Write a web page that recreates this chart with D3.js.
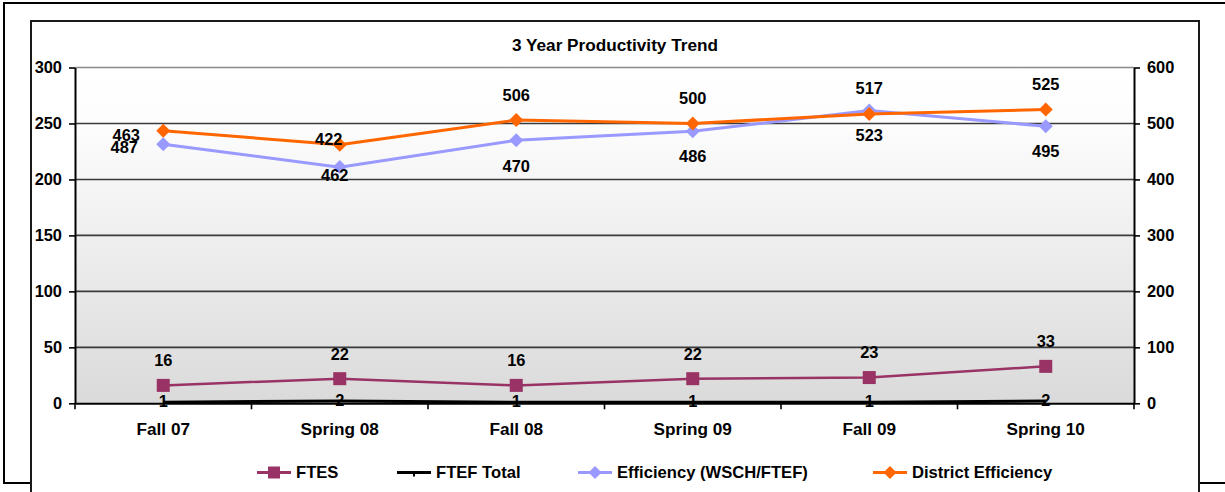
<!DOCTYPE html>
<html>
<head>
<meta charset="utf-8">
<script src="https://cdn.jsdelivr.net/npm/d3@7"></script>
<style>
  html, body { margin: 0; padding: 0; background: #fff; }
  svg { display: block; }
  text { font-family: "Liberation Sans", Arial, sans-serif; font-weight: bold; fill: #000; }
</style>
</head>
<body>
<svg id="chart" width="1225" height="492"></svg>
<script>
// ---- data ----
const categories = ["Fall 07", "Spring 08", "Fall 08", "Spring 09", "Fall 09", "Spring 10"];
const ftes = [16, 22, 16, 22, 23, 33];
const ftefTotal = [1, 2, 1, 1, 1, 2];
const efficiency = [463, 422, 470, 486, 523, 495];
const districtEfficiency = [487, 462, 506, 500, 517, 525];
const leftTicks = [0, 50, 100, 150, 200, 250, 300];
const rightTicks = [0, 100, 200, 300, 400, 500, 600];
const seriesNames = ["FTES", "FTEF Total", "Efficiency (WSCH/FTEF)", "District Efficiency"];
const title = "3 Year Productivity Trend";

// label placement (pixel nudges from the point), kept apart from the data
const efficiencyLabelNudge = [[-37, -9.5], [-11, -28], [0, 26], [0, 25], [0, 25], [0, 25]];
const districtLabelNudge = [[-39, 16.5], [-5, 30], [0, -25], [0, -25], [0, -26], [0, -25]];

// ---- layout ----
const svg = d3.select("#chart");
const plot = { left: 75, right: 1134, top: 67.5, bottom: 403.3 };
const font = 16.4;

const x = d3.scaleBand().domain(categories).range([plot.left, plot.right]);
const cx = c => x(c) + x.bandwidth() / 2;
const yL = d3.scaleLinear().domain([0, 300]).range([plot.bottom, plot.top]);
const yR = d3.scaleLinear().domain([0, 600]).range([plot.bottom, plot.top]);

// frames
svg.append("rect").attr("x", 4).attr("y", 3).attr("width", 1240).attr("height", 480)
  .attr("fill", "#fff").attr("stroke", "#000").attr("stroke-width", 2);
svg.append("rect").attr("x", 31).attr("y", 21).attr("width", 1168).attr("height", 500)
  .attr("fill", "#fff").attr("stroke", "#1a1a1a").attr("stroke-width", 2);

// title
svg.append("text").attr("x", 615).attr("y", 51).attr("text-anchor", "middle")
  .style("font-size", "17.2px").text(title);

// plot background gradient
const defs = svg.append("defs");
const grad = defs.append("linearGradient").attr("id", "bg").attr("x1", 0).attr("y1", 0).attr("x2", 0).attr("y2", 1);
grad.append("stop").attr("offset", "0%").attr("stop-color", "#ffffff");
grad.append("stop").attr("offset", "16%").attr("stop-color", "#fdfdfd");
grad.append("stop").attr("offset", "100%").attr("stop-color", "#dadada");
svg.append("rect").attr("x", plot.left).attr("y", plot.top)
  .attr("width", plot.right - plot.left).attr("height", plot.bottom - plot.top)
  .attr("fill", "url(#bg)");

// gridlines
svg.append("g").selectAll("line").data(leftTicks.filter(t => t > 0)).join("line")
  .attr("x1", plot.left).attr("x2", plot.right)
  .attr("y1", d => yL(d)).attr("y2", d => yL(d))
  .attr("stroke", d => d === 300 ? "#8a8a8a" : "#3a3a3a")
  .attr("stroke-width", 1.6);

// axes
const styleAxis = (g, size) => {
  g.selectAll("path").attr("stroke", "#000").attr("stroke-width", 2);
  g.selectAll("line").attr("stroke", "#000").attr("stroke-width", 1.6);
  g.selectAll("text").style("font-size", size + "px").style("font-family", "\"Liberation Sans\", Arial, sans-serif").style("font-weight", "bold");
};
svg.append("g").attr("transform", `translate(${plot.left},0)`)
  .call(d3.axisLeft(yL).tickValues(leftTicks).tickSize(6).tickSizeOuter(0).tickPadding(7))
  .call(g => styleAxis(g, font));
svg.append("g").attr("transform", `translate(${plot.right},0)`)
  .call(d3.axisRight(yR).tickValues(rightTicks).tickSize(6).tickSizeOuter(0).tickPadding(7))
  .call(g => styleAxis(g, font));
// x axis: labels at band centres, ticks at band boundaries
const xAxis = svg.append("g").attr("transform", `translate(0,${plot.bottom})`)
  .call(d3.axisBottom(x).tickSize(0).tickSizeOuter(0).tickPadding(19.5))
  .call(g => styleAxis(g, 17.2));
const boundaries = categories.map(c => x(c)).concat([x(categories[categories.length - 1]) + x.bandwidth()]);
xAxis.append("g").selectAll("line").data(boundaries).join("line")
  .attr("x1", d => d).attr("x2", d => d).attr("y1", 0).attr("y2", 6)
  .attr("stroke", "#000").attr("stroke-width", 1.6);

// series
const colors = { ftes: "#993366", ftef: "#000000", eff: "#9999ff", dist: "#ff6600" };
const line = (yScale) => d3.line().x((d, i) => cx(categories[i])).y(d => yScale(d));

svg.append("path").datum(ftes).attr("d", line(yL)).attr("fill", "none")
  .attr("stroke", colors.ftes).attr("stroke-width", 2.5);
svg.append("path").datum(efficiency).attr("d", line(yR)).attr("fill", "none")
  .attr("stroke", colors.eff).attr("stroke-width", 3);
svg.append("path").datum(districtEfficiency).attr("d", line(yR)).attr("fill", "none")
  .attr("stroke", colors.dist).attr("stroke-width", 3);
svg.append("path").datum(ftefTotal).attr("d", line(yL)).attr("fill", "none")
  .attr("stroke", colors.ftef).attr("stroke-width", 3);

// markers
const diamond = (px, py, r) => `M${px},${py - r}L${px + r},${py}L${px},${py + r}L${px - r},${py}Z`;
svg.append("g").selectAll("rect").data(ftes).join("rect")
  .attr("x", (d, i) => cx(categories[i]) - 6.5).attr("y", d => yL(d) - 6.5)
  .attr("width", 13).attr("height", 13).attr("fill", colors.ftes);
svg.append("g").selectAll("path").data(efficiency).join("path")
  .attr("d", (d, i) => diamond(cx(categories[i]), yR(d), 7)).attr("fill", colors.eff);
svg.append("g").selectAll("path").data(districtEfficiency).join("path")
  .attr("d", (d, i) => diamond(cx(categories[i]), yR(d), 7)).attr("fill", colors.dist);

// data labels
const labels = svg.append("g");
const addLabels = (cls, data, xf, yf) =>
  labels.selectAll("text." + cls).data(data).join("text").attr("class", cls)
    .attr("x", xf).attr("y", yf).attr("dy", "0.36em").attr("text-anchor", "middle")
    .style("font-size", font + "px").text(d => d);
addLabels("ftes", ftes, (d, i) => cx(categories[i]), d => yL(d) - 25);
addLabels("ftef", ftefTotal, (d, i) => cx(categories[i]), d => yL(d) - 1);
addLabels("eff", efficiency, (d, i) => cx(categories[i]) + efficiencyLabelNudge[i][0], (d, i) => yR(d) + efficiencyLabelNudge[i][1]);
addLabels("dist", districtEfficiency, (d, i) => cx(categories[i]) + districtLabelNudge[i][0], (d, i) => yR(d) + districtLabelNudge[i][1]);

// legend
const legendX = [257, 397, 578, 873];
const legendColors = [colors.ftes, colors.ftef, colors.eff, colors.dist];
const legendMarkers = ["square", "dash", "diamond", "diamond"];
const ly = 472.5;
const lg = svg.append("g");
seriesNames.forEach((name, i) => {
  const x0 = legendX[i];
  lg.append("line").attr("x1", x0).attr("x2", x0 + 34).attr("y1", ly).attr("y2", ly)
    .attr("stroke", legendColors[i]).attr("stroke-width", 3);
  const mx = x0 + 17;
  if (legendMarkers[i] === "square") {
    lg.append("rect").attr("x", mx - 6).attr("y", ly - 6).attr("width", 12).attr("height", 12).attr("fill", legendColors[i]);
  } else if (legendMarkers[i] === "diamond") {
    lg.append("path").attr("d", diamond(mx, ly, 6.5)).attr("fill", legendColors[i]);
  } else {
    lg.append("line").attr("x1", mx).attr("x2", mx).attr("y1", ly).attr("y2", ly + 4)
      .attr("stroke", legendColors[i]).attr("stroke-width", 2);
  }
  lg.append("text").attr("x", x0 + 39).attr("y", ly).attr("dy", "0.36em")
    .style("font-size", "16.6px").text(name);
});
</script>
</body>
</html>
